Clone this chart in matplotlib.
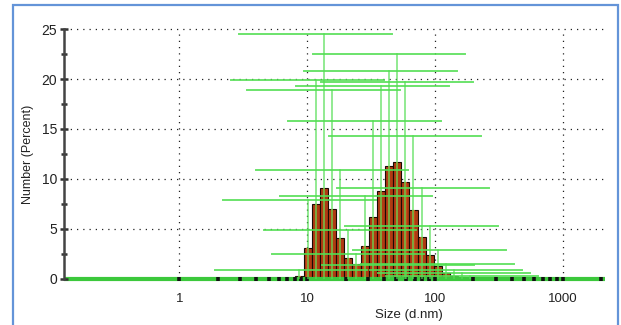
import matplotlib
matplotlib.use('Agg')
import matplotlib.pyplot as plt
from matplotlib.patches import Rectangle
from matplotlib.ticker import FixedLocator, FixedFormatter, NullFormatter
import numpy as np

plt.rcParams['font.family'] = ['Liberation Sans', 'DejaVu Sans']

# size classes (d.nm) and number distribution (%)
sizes = [7.531, 8.721, 10.1, 11.7, 13.54, 15.69, 18.17, 21.04, 24.36, 28.21, 32.67,
         37.84, 43.82, 50.75, 58.77, 68.06, 78.82, 91.28, 105.7, 122.4, 141.8, 164.2, 190.1]
number = [0.05, 0.3, 3.1, 7.5, 9.1, 7.0, 4.1, 2.1, 1.5, 3.3, 6.2,
          8.8, 11.3, 11.7, 9.7, 6.9, 4.2, 2.4, 1.3, 0.6, 0.3, 0.15, 0.05]

# green error crosses: centre size and height
cross_x = [8.721, 10.1, 11.7, 13.54, 15.69, 18.17, 21.04, 24.36, 28.21, 32.67, 37.84,
           43.82, 50.75, 58.77, 68.06, 78.82, 91.28, 105.7, 122.4, 141.8, 164.2, 190.1, 60.0]
cross_y = [0.9, 7.9, 19.9, 24.5, 18.9, 10.9, 4.9, 2.5, 8.3, 15.8, 19.3,
           20.8, 22.5, 19.7, 14.3, 9.1, 5.25, 2.9, 1.5, 0.9, 0.55, 0.3, 1.4]

ratio = 1.158  # size class step
lo_f, hi_f = 4.6, 3.4  # horizontal bar extent, factor below / above centre

fig = plt.figure(figsize=(6.21, 3.25), dpi=100)
ax = fig.add_axes([64/621, 1-278.5/325, (605-64)/621, (278.5-29.3)/325])
ax.set_xscale('log')
ax.set_xlim(0.125, 2150)
ax.set_ylim(0, 25)

c = np.array(sizes)
left = c / np.sqrt(ratio)
width = c * np.sqrt(ratio) - left
ax.bar(left, number, width=width, align='edge', color='#b03a12', edgecolor='#1a0a05', lw=0.8, zorder=1)
# lighter core for the shaded look
ax.bar(c / ratio**0.15, number, width=c * ratio**0.15 - c / ratio**0.15, align='edge',
       color='#c84c1a', lw=0, zorder=1.1)

green = '#52de52'
ax.plot([0.125, 2150], [0, 0], color='#3cc83c', lw=3.0, zorder=1.5, clip_on=False,
        solid_capstyle='butt')
for x, y in zip(cross_x, cross_y):
    ax.plot([x, x], [0, y], color=green, lw=1.1, alpha=0.8, zorder=3)
    ax.plot([x / lo_f, x * hi_f], [y, y], color=green, lw=1.4, alpha=0.85, zorder=3)

# grid
for g in [1, 10, 100, 1000]:
    ax.plot([g, g], [0, 25], color='#222222', lw=0.9, ls=(0, (1, 4)), zorder=0.5)
for g in [5, 10, 15, 20, 25]:
    ax.plot([0.125, 2150], [g, g], color='#222222', lw=0.9, ls=(0, (1, 4)), zorder=0.5,
            clip_on=False)

for s in ['top', 'right', 'bottom']:
    ax.spines[s].set_visible(False)
ax.spines['left'].set_color('#444444')
ax.spines['left'].set_linewidth(1.8)

ax.xaxis.set_major_locator(FixedLocator([1, 10, 100, 1000]))
ax.xaxis.set_major_formatter(FixedFormatter(['1', '10', '100', '1000']))
minors = [m * 10**e for e in range(0, 3) for m in range(2, 10)] + [2000]
ax.xaxis.set_minor_locator(FixedLocator(minors))
ax.xaxis.set_minor_formatter(NullFormatter())
ax.tick_params(axis='x', which='both', direction='inout', length=3.5, width=2.6,
               color='#111111', pad=9, labelsize=9.5, labelcolor='#222222')

ax.yaxis.set_major_locator(FixedLocator([0, 5, 10, 15, 20, 25]))
ax.yaxis.set_minor_locator(FixedLocator([2.5, 7.5, 12.5, 17.5, 22.5]))
ax.tick_params(axis='y', which='major', direction='inout', length=6, width=1.8,
               color='#333333', pad=2, labelsize=10, labelcolor='#222222')
ax.tick_params(axis='y', which='minor', direction='inout', length=5, width=1.8,
               color='#333333')

fig.text(27.7/621, 1-154/325, 'Number (Percent)', rotation=90, ha='center', va='center',
         fontsize=9, color='#222222')
fig.text(409/621, 1-315/325, 'Size (d.nm)', ha='center', va='center',
         fontsize=9.5, color='#222222')

fig.add_artist(Rectangle((13/621, -0.1), 605/621, 1.1 - 5/325, transform=fig.transFigure,
                         fill=False, ec='#6494d8', lw=1.6))

fig.savefig('out.png', dpi=100)
